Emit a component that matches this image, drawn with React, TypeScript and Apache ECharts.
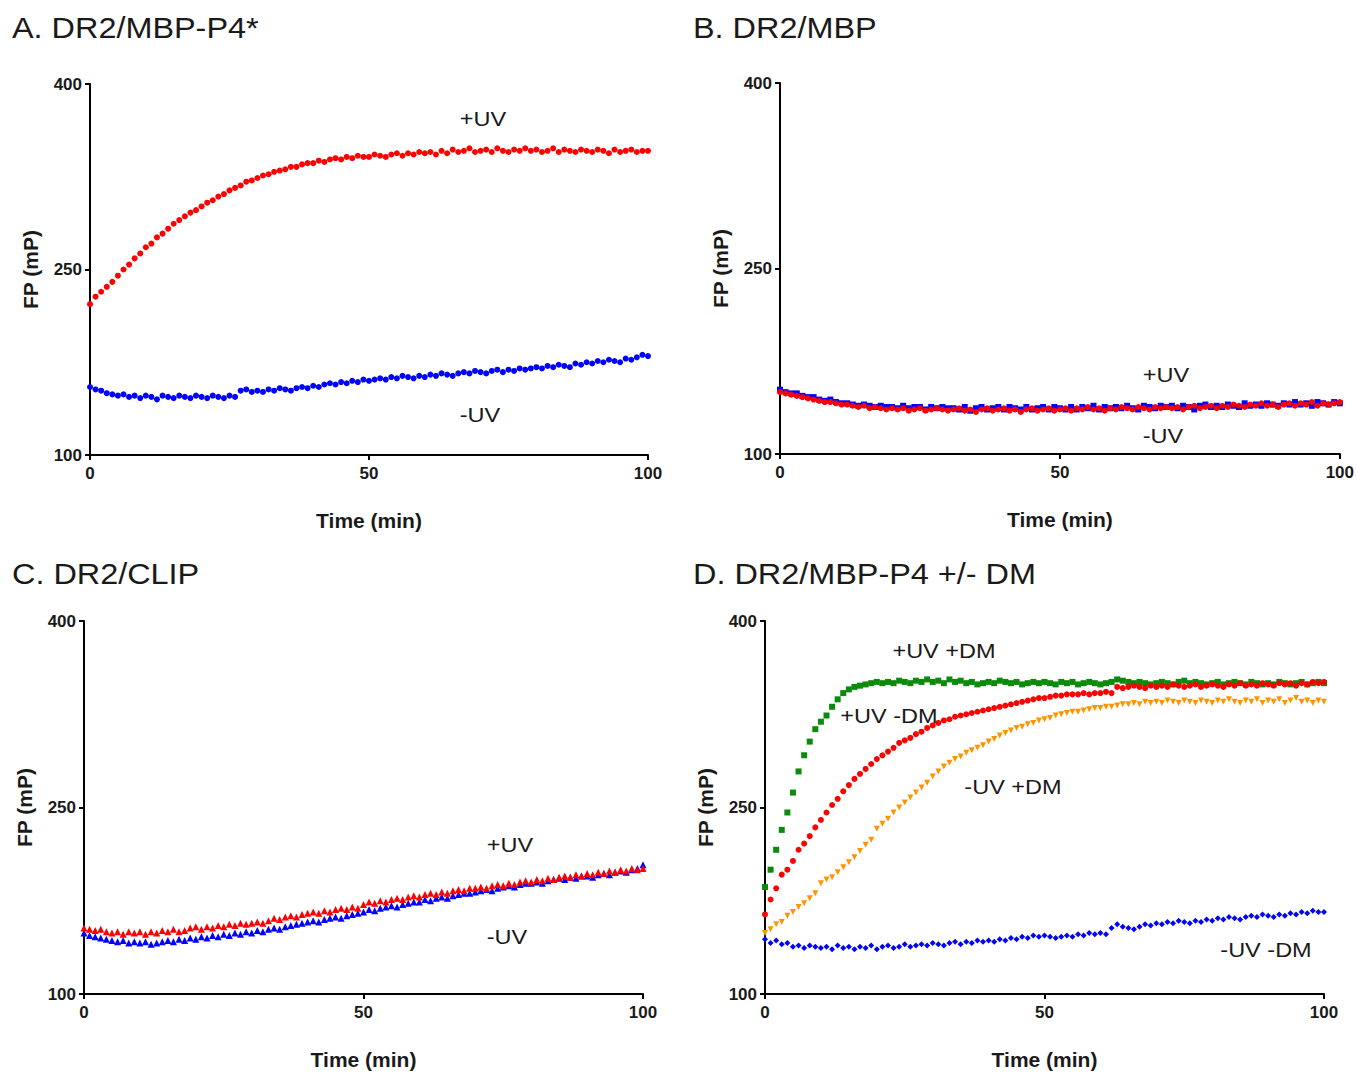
import React, { useEffect, useRef } from "react";
import * as echarts from "echarts";

// Time grid (min), one reading per minute
const TIME = Array.from({ length: 101 }, (_, i) => i);

// Panel A: DR2/MBP-P4*
const A_PLUS_UV = [
  222, 228, 232, 236, 240, 245, 250, 254, 259, 263,
  268, 271, 276, 279, 283, 287, 290, 293, 296, 298,
  301, 304, 306, 309, 311, 314, 316, 318, 321, 322,
  324, 326, 327, 329, 330, 331, 333, 333, 335, 336,
  336, 338, 337, 339, 340, 339, 341, 340, 342, 341,
  341, 343, 342, 341, 343, 344, 342, 344, 343, 345,
  344, 345, 343, 346, 344, 347, 345, 346, 348, 345,
  346, 347, 345, 348, 346, 345, 347, 346, 348, 346,
  347, 345, 346, 348, 345, 347, 346, 345, 347, 346,
  345, 347, 346, 344, 347, 345, 346, 347, 345, 346,
  346,
];
const A_MINUS_UV = [
  155, 153, 152, 150, 149, 148, 149, 147, 148, 146,
  148, 147, 145, 148, 147, 146, 148, 147, 146, 148,
  147, 146, 148, 147, 146, 148, 147, 152, 153, 151,
  152, 151, 153, 152, 154, 153, 152, 154, 155, 154,
  156, 155, 157, 158, 157, 159, 158, 160, 159, 161,
  160, 161, 162, 161, 163, 162, 164, 163, 162, 164,
  163, 165, 164, 166, 165, 164, 166, 167, 166, 168,
  167, 166, 168, 169, 167, 169, 168, 170, 169, 170,
  171, 170, 172, 171, 173, 172, 171, 174, 173, 175,
  174, 176, 175, 177, 176, 175, 178, 177, 179, 181,
  180,
];

// Panel B: DR2/MBP
const B_PLUS_UV = [
  150, 149, 148, 147, 146, 145, 144, 143, 142, 142,
  141, 140, 140, 139, 138, 139, 137, 138, 137, 136,
  137, 136, 137, 135, 136, 137, 135, 136, 137, 136,
  135, 136, 137, 135, 136, 134, 136, 137, 135, 136,
  137, 135, 136, 134, 136, 137, 135, 136, 137, 135,
  136, 137, 135, 137, 136, 138, 136, 137, 135, 137,
  136, 138, 137, 136, 138, 137, 136, 138, 137, 138,
  137, 138, 136, 138, 139, 137, 138, 139, 137, 139,
  138, 140, 139, 138, 140, 139, 141, 139, 140, 138,
  140, 141, 139, 141, 140, 142, 139, 141, 140, 141,
  142,
];
const B_MINUS_UV = [
  152, 150, 149, 149, 147, 146, 146, 144, 143, 144,
  142, 141, 141, 140, 139, 140, 139, 138, 139, 138,
  138, 137, 139, 137, 138, 138, 136, 138, 137, 138,
  137, 137, 136, 138, 135, 137, 138, 136, 137, 138,
  136, 138, 137, 136, 138, 136, 137, 138, 136, 138,
  137, 136, 138, 136, 138, 137, 139, 136, 138, 137,
  138, 137, 139, 137, 136, 139, 138, 137, 139, 138,
  139, 137, 139, 138, 136, 139, 140, 138, 139, 138,
  140, 139, 138, 141, 139, 140, 139, 141, 140, 139,
  141, 140, 142, 140, 141, 139, 142, 141, 140, 142,
  141,
];

// Panel C: DR2/CLIP
const C_PLUS_UV = [
  153, 152, 151, 152, 150, 149, 150, 148, 150, 149,
  150, 148, 150, 149, 151, 150, 152, 150, 151, 153,
  154, 152, 154, 153, 155, 154, 156, 155, 157, 156,
  157, 158, 157, 159, 161, 160, 162, 163, 162, 164,
  165, 166, 165, 167, 166, 168, 169, 168, 170, 169,
  172, 174, 173, 175, 174, 176, 177, 176, 178, 179,
  178, 180, 181, 180, 182, 181, 183, 184, 183, 185,
  185, 186, 185, 187, 188, 187, 189, 188, 190, 191,
  190, 192, 191, 193, 192, 194, 195, 194, 196, 195,
  197, 196, 198, 197, 199, 198, 200, 199, 201, 200,
  201,
];
const C_MINUS_UV = [
  149, 147, 146, 145, 144, 143, 142, 143, 141, 142,
  141, 142, 140, 141, 142, 143, 142, 144, 143, 145,
  144, 146, 145, 147, 146, 148, 147, 149, 148, 150,
  149, 151, 150, 152, 153, 152, 154, 155, 156, 157,
  158, 159, 158, 160, 161, 162, 161, 163, 164, 165,
  166, 168, 167, 169, 170, 171, 170, 172, 173, 174,
  174, 176, 175, 177, 178, 177, 179, 180, 181, 181,
  182, 183, 184, 183, 185, 186, 187, 186, 188, 189,
  189, 190, 189, 191, 192, 193, 192, 194, 193, 195,
  195, 194, 196, 197, 196, 198, 199, 198, 200, 201,
  204,
];

// Panel D: DR2/MBP-P4 +/- DM
const D_PLUS_UV_PLUS_DM = [
  186, 200, 216, 232, 246, 262, 279, 292, 303, 313,
  319, 324, 331, 337, 342, 345, 347, 348, 349, 350,
  351, 350, 351, 350, 352, 351, 350, 352, 351, 353,
  351, 352, 350, 353, 351, 352, 350, 351, 349, 350,
  351, 350, 352, 351, 350, 351, 349, 350, 351, 350,
  351, 350, 349, 351, 350, 351, 349, 350, 351, 350,
  349, 350, 351, 353, 352, 351, 350, 351, 350, 349,
  350, 351, 350, 349, 351, 352, 350, 351, 350, 349,
  350, 351, 349, 350, 351, 350, 349, 351, 350, 349,
  350, 349, 351, 350, 349, 350, 351, 349, 350, 351,
  350,
];
const D_PLUS_UV_MINUS_DM = [
  164, 176, 185, 196, 200, 207, 216, 221, 227, 234,
  240, 246, 252, 257, 263, 268, 273, 277, 281, 285,
  289, 292, 295, 298, 302, 304, 306, 309, 311, 314,
  316, 318, 320, 321, 323, 324, 325, 326, 327, 328,
  329, 330, 331, 332, 333, 334, 335, 336, 337, 338,
  338, 339, 340, 340, 341, 341, 341, 342, 341, 342,
  342, 343, 342, 347, 346, 347, 348, 347, 346, 348,
  347, 348, 347, 349, 348, 347, 348, 349, 347, 348,
  349, 348, 347, 349, 348, 350, 348, 349, 348, 350,
  349, 348, 350, 349, 350, 348, 350, 349, 351, 350,
  351,
];
const D_MINUS_UV_PLUS_DM = [
  149, 152, 156, 158, 163, 166, 170, 173, 177, 181,
  189, 192, 194, 198, 202, 206, 210, 215, 220, 224,
  233, 237, 241, 246, 250, 254, 258, 262, 266, 270,
  275, 279, 283, 286, 289, 291, 294, 296, 298, 300,
  303, 305, 308, 310, 312, 314, 315, 317, 318, 320,
  321, 322, 324, 325, 326, 327, 327, 328, 329, 330,
  330, 331, 331, 332, 333, 333, 334, 333, 335, 334,
  335, 334, 336, 335, 334, 336, 335, 334, 336, 335,
  334, 336, 335, 337, 335, 334, 336, 335, 337, 334,
  336, 335, 337, 334, 336, 338, 335, 336, 334, 336,
  335,
];
const D_MINUS_UV_MINUS_DM = [
  144, 141, 143, 140, 141, 138, 139, 137, 139, 138,
  137, 138, 136, 139, 137, 138, 136, 138, 137, 139,
  136, 138, 139, 137, 138, 140, 138, 139, 140, 139,
  141, 140, 139, 141, 142, 140, 142, 141, 143, 142,
  143, 142, 144, 143, 145, 144, 146, 145, 147, 146,
  147, 146, 145, 146, 147, 146, 148, 147, 149, 148,
  149, 148, 153, 156, 154, 153, 152, 154, 156, 155,
  157, 156, 158, 157, 159, 158, 157, 159, 158, 160,
  159, 161, 160, 162, 161, 160, 162, 163, 162, 164,
  163, 162, 164, 163, 165, 164, 166, 165, 167, 166,
  166,
];

const Y_MIN = 100;
const Y_MAX = 400;
const Y_STEP = 150;
const X_MIN = 0;
const X_MAX = 100;
const X_STEP = 50;

const PANEL_TITLES = ["A. DR2/MBP-P4*", "B. DR2/MBP", "C. DR2/CLIP", "D. DR2/MBP-P4 +/- DM"];

const RED = "#ff0000";
const BLUE = "#0000ff";
const GREEN = "#0c8a0c";
const ORANGE = "#ff9400";
const INK = "#1a1a1a";
const FONT = "'Liberation Sans', Arial, Helvetica, sans-serif";

const toPts = (vals: number[]) => vals.map((v, i) => [TIME[i], v]);

export default function App() {
  const ref = useRef<HTMLDivElement>(null);

  useEffect(() => {
    if (!ref.current) return;
    const chart = echarts.init(ref.current, null, { renderer: "svg" });

    const grids = [
      { left: 90, top: 84, width: 558, height: 371 },
      { left: 780, top: 83, width: 560, height: 371 },
      { left: 84, top: 621, width: 559, height: 373 },
      { left: 765, top: 621, width: 559, height: 373 },
    ];

    const axisLine = { show: true, onZero: false, lineStyle: { color: "#000", width: 2 } };
    const axisTick = { show: true, inside: false, length: 5, lineStyle: { color: "#000", width: 2 } };

    const xAxes = grids.map((_, i) => ({
      type: "value",
      gridIndex: i,
      min: X_MIN,
      max: X_MAX,
      interval: X_STEP,
      axisLine,
      axisTick,
      splitLine: { show: false },
      axisLabel: { color: INK, fontFamily: FONT, fontWeight: "bold", fontSize: 17, margin: 10 },
      name: "Time (min)",
      nameLocation: "middle",
      nameGap: 55,
      nameTextStyle: { color: INK, fontFamily: FONT, fontWeight: "bold", fontSize: 21 },
    }));

    const yAxes = grids.map((_, i) => ({
      type: "value",
      gridIndex: i,
      min: Y_MIN,
      max: Y_MAX,
      interval: Y_STEP,
      axisLine,
      axisTick,
      splitLine: { show: false },
      axisLabel: { color: INK, fontFamily: FONT, fontWeight: "bold", fontSize: 17, margin: 8 },
      name: "FP (mP)",
      nameLocation: "middle",
      nameGap: 49,
      nameTextStyle: { color: INK, fontFamily: FONT, fontWeight: "bold", fontSize: 21 },
    }));

    const sc = (
      name: string,
      vals: number[],
      idx: number,
      color: string,
      symbol: string,
      size: number,
      rotate = 0
    ) => ({
      type: "scatter",
      name,
      xAxisIndex: idx,
      yAxisIndex: idx,
      data: toPts(vals),
      symbol,
      symbolSize: size,
      symbolRotate: rotate,
      itemStyle: { color, opacity: 1 },
      silent: true,
    });

    const series = [
      sc("A -UV", A_MINUS_UV, 0, BLUE, "circle", 6),
      sc("A +UV", A_PLUS_UV, 0, RED, "circle", 6),
      sc("B -UV", B_MINUS_UV, 1, BLUE, "rect", 6),
      sc("B +UV", B_PLUS_UV, 1, RED, "circle", 6),
      sc("C -UV", C_MINUS_UV, 2, BLUE, "triangle", 7),
      sc("C +UV", C_PLUS_UV, 2, RED, "triangle", 7),
      sc("D -UV -DM", D_MINUS_UV_MINUS_DM, 3, BLUE, "diamond", 6),
      sc("D -UV +DM", D_MINUS_UV_PLUS_DM, 3, ORANGE, "triangle", 6, 180),
      sc("D +UV +DM", D_PLUS_UV_PLUS_DM, 3, GREEN, "rect", 6),
      sc("D +UV -DM", D_PLUS_UV_MINUS_DM, 3, RED, "circle", 6),
    ];

    const titlePos = [
      [12, 28],
      [693, 28],
      [12, 574],
      [693, 574],
    ];
    const titles = PANEL_TITLES.map((t, i) => ({
      type: "text",
      x: titlePos[i][0],
      y: titlePos[i][1],
      scaleX: 1.08,
      style: {
        text: t,
        fill: INK,
        font: `30px ${FONT}`,
        align: "left",
        verticalAlign: "middle",
      },
    }));

    const notes: [string, number, number][] = [
      ["+UV", 483, 119],
      ["-UV", 480, 415],
      ["+UV", 1166, 375],
      ["-UV", 1163, 436],
      ["+UV", 510, 845],
      ["-UV", 507, 937],
      ["+UV +DM", 944, 651],
      ["+UV -DM", 889, 716],
      ["-UV +DM", 1013, 787],
      ["-UV -DM", 1266, 950],
    ];
    const noteEls = notes.map(([t, x, y]) => ({
      type: "text",
      x,
      y,
      scaleX: 1.12,
      z: 10,
      style: {
        text: t,
        fill: INK,
        font: `21px ${FONT}`,
        align: "center",
        verticalAlign: "middle",
      },
    }));

    chart.setOption({
      animation: false,
      backgroundColor: "#ffffff",
      grid: grids,
      xAxis: xAxes,
      yAxis: yAxes,
      series,
      graphic: [...titles, ...noteEls],
    });

    return () => chart.dispose();
  }, []);

  return (
    <div
      ref={ref}
      style={{ position: "fixed", left: 0, top: 0, width: 1357, height: 1073 }}
    />
  );
}
